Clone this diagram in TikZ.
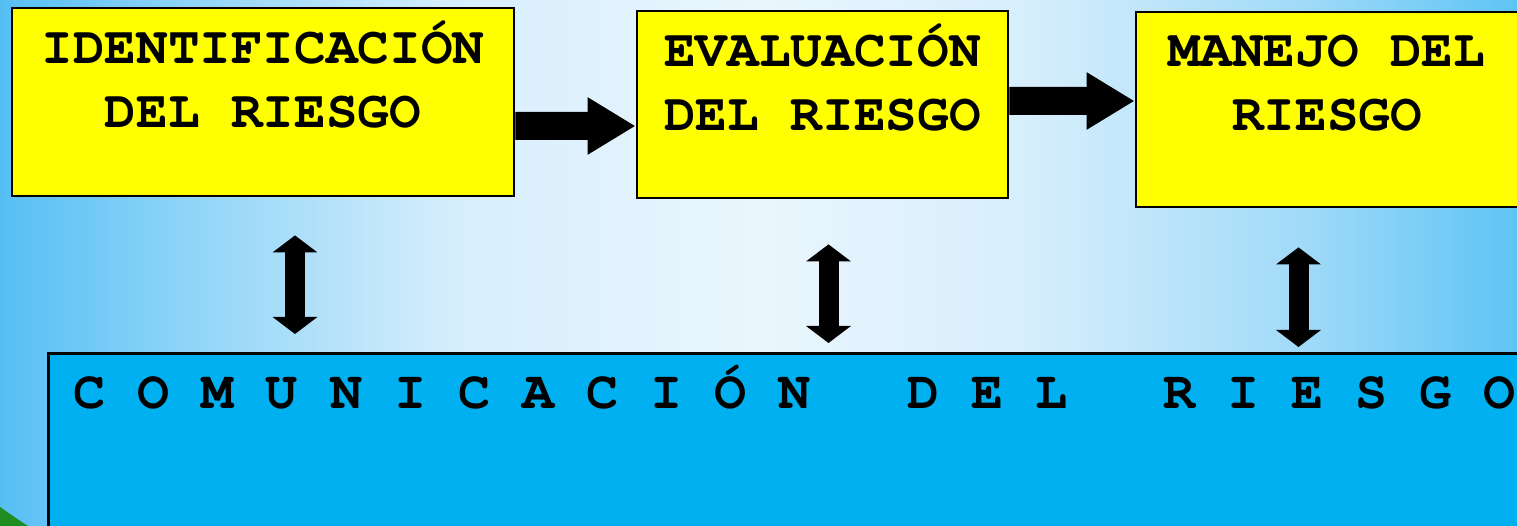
\documentclass[tikz,border=0pt]{standalone}
\usepackage{fontspec}
\setmonofont{TeX Gyre Cursor}
\usepackage{tikz}
\usetikzlibrary{arrows.meta,calc}
\definecolor{boxyellow}{HTML}{FFFF00}
\definecolor{commblue}{HTML}{00B0F0}
\definecolor{skyedge}{HTML}{55BFF4}
\definecolor{skyside}{HTML}{8ED4F7}
\definecolor{skylight}{HTML}{D6EEFC}
\definecolor{skymid}{HTML}{EAF6FD}
\definecolor{skyright}{HTML}{A0DAF8}
\definecolor{skyend}{HTML}{5EC4F5}
\definecolor{hillgreen}{HTML}{1E8C1E}
\pgfdeclarehorizontalshading{sky}{100bp}{color(0bp)=(skyedge); color(25bp)=(skyedge); color(31bp)=(skyside); color(40bp)=(skylight); color(50bp)=(skymid); color(59bp)=(skylight); color(68bp)=(skyright); color(75bp)=(skyend); color(100bp)=(skyend)}
\newcommand{\stagefont}{\ttfamily\bfseries\fontsize{15}{18.2}\selectfont}
\newcommand{\commfont}{\ttfamily\bfseries\fontsize{15.2}{18.2}\selectfont}

\begin{document}
\begin{tikzpicture}[
    stage/.style={draw=black, line width=0.8pt, fill=boxyellow, inner sep=0pt},
    stagetext/.style={font=\stagefont, align=center, anchor=base, inner sep=0pt},
    flow/.style={line width=2.8mm, -{Triangle[length=4.8mm,width=5.4mm]}},
    twoway/.style={line width=2mm, {Triangle[length=1.7mm,width=4.4mm]}-{Triangle[length=1.7mm,width=4.4mm]}}
  ]
        % background
        \useasboundingbox (0,0) rectangle (15.17,-5.26);
        \clip (0,0) rectangle (15.17,-5.26);
        \shade[shading=sky] (0,0) rectangle (15.17,-5.26);
        \fill[hillgreen] (0,-5.07) .. controls (0.1,-5.14) and (0.2,-5.21) .. (0.28,-5.26) -- (0,-5.26) -- cycle;

        % boxes
        \node[stage, minimum width=5.02cm, minimum height=1.88cm] (ident) at (2.63,-1.02) {};
        \node[stage, minimum width=3.71cm, minimum height=1.87cm] (eval) at (8.225,-1.045) {};
        \node[stage, minimum width=3.82cm, minimum height=1.95cm] (manejo) at (13.27,-1.095) {};
        \node[draw=black, line width=0.8pt, fill=commblue, anchor=north west,
              minimum width=15cm, minimum height=2.2cm] (comm) at (0.47,-3.52) {};

        % arrows
        \draw[flow] ([yshift=-2.4mm]ident.east) -- ([yshift=-2.15mm]eval.west);
        \draw[flow] ([yshift=0.35mm]eval.east) -- ([yshift=0.85mm]manejo.west);
        \draw[twoway, shorten <=3.8mm, shorten >=1.8mm] ([xshift=3.2mm]ident.south) -- ([xshift=3.2mm]ident.south |- comm.north);
        \draw[twoway, shorten <=4.5mm, shorten >=0.9mm] ([xshift=0.6mm]eval.south) -- ([xshift=0.6mm]eval.south |- comm.north);
        \draw[twoway, shorten <=3.9mm, shorten >=0.5mm] ([xshift=-2.85mm]manejo.south) -- ([xshift=-2.85mm]manejo.south |- comm.north);

        % Text
        \node[stagetext] (identtext) at ([yshift=-12.1mm]ident.north) {IDENTIFICACIÓN\\DEL RIESGO};
        \node[stagetext] (evaltext) at ([yshift=-12.1mm]eval.north) {EVALUACIÓN\\DEL RIESGO};
        \node[stagetext] (manejotext) at ([yshift=-12mm]manejo.north) {MANEJO DEL\\RIESGO};
        \node[font=\commfont, anchor=base west, inner sep=0pt] (commtext) at (0.73,-4.09)
            {C O M U N I C A C I Ó N~~~D E L~~~R I E S G O};

    \end{tikzpicture}
\end{document}
